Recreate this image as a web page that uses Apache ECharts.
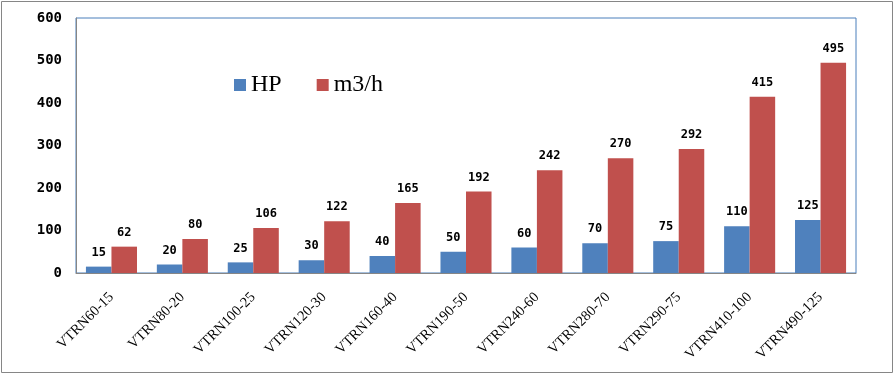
<!DOCTYPE html>
<html><head><meta charset="utf-8">
<script src="https://cdn.jsdelivr.net/npm/echarts@6/dist/echarts.min.js"></script>
<style>html,body{margin:0;padding:0;background:#fff}#c{width:895px;height:375px}</style>
</head><body><div id="c"></div>
<script>
const categories = ['VTRN60-15','VTRN80-20','VTRN100-25','VTRN120-30','VTRN160-40','VTRN190-50','VTRN240-60','VTRN280-70','VTRN290-75','VTRN410-100','VTRN490-125'];
const hp = [15,20,25,30,40,50,60,70,75,110,125];
const flow = [62,80,106,122,165,192,242,270,292,415,495];
const yTicks = {min:0, max:600, interval:100};

const chart = echarts.init(document.getElementById('c'));
const labelStyle = {show:true, position:'top', distance:8, color:'#000', fontWeight:'bold', fontSize:12, fontFamily:'DejaVu Sans Mono'};
chart.setOption({
  animation:false,
  graphic:[{type:'rect', shape:{x:1.5,y:1.5,width:891,height:371}, style:{fill:'none', stroke:'#868686', lineWidth:1}}],
  legend:{left:229, top:68, itemWidth:12, itemHeight:12, itemGap:35, icon:'rect',
    textStyle:{fontSize:24, fontFamily:'Liberation Serif', color:'#000', padding:[4,0,0,0]},
    data:['HP','m3/h']},
  grid:{left:76, right:39, top:18, bottom:102, show:true, borderColor:'#4a7ebb', borderWidth:1, backgroundColor:'transparent'},
  xAxis:{type:'category', data:categories,
    axisLine:{lineStyle:{color:'#868686'}}, axisTick:{show:false},
    axisLabel:{rotate:45, interval:0, margin:22, fontSize:14.5, fontFamily:'Liberation Serif', color:'#000'}},
  yAxis:{type:'value', min:yTicks.min, max:yTicks.max, interval:yTicks.interval,
    axisLine:{show:true, lineStyle:{color:'#868686'}}, axisTick:{show:false}, splitLine:{show:false},
    axisLabel:{margin:14, fontSize:14, fontWeight:'bold', fontFamily:'DejaVu Sans Mono', color:'#000'}},
  series:[
    {name:'HP', type:'bar', data:hp, barGap:'0%', barCategoryGap:'28%', itemStyle:{color:'#4f81bd'}, label:labelStyle},
    {name:'m3/h', type:'bar', data:flow, barGap:'0%', barCategoryGap:'28%', itemStyle:{color:'#c0504d'}, label:labelStyle}
  ]
});
</script></body></html>
